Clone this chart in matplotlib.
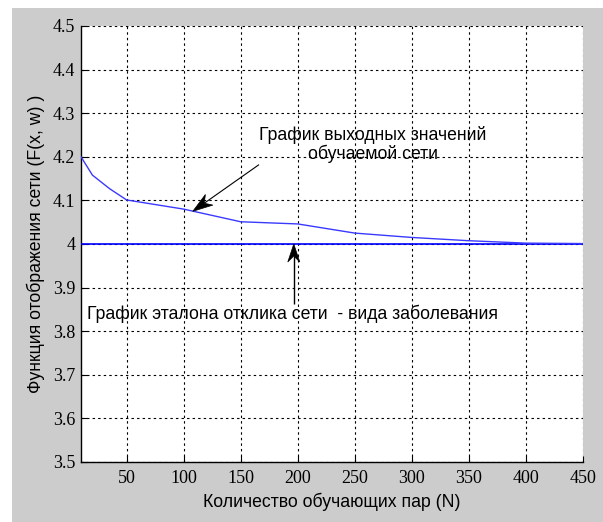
import matplotlib
matplotlib.use("Agg")
import numpy as np
import matplotlib.pyplot as plt
from matplotlib.patches import Rectangle, Polygon
from matplotlib.transforms import IdentityTransform

# ---- data ----
n_pairs = [10, 20, 35, 50, 100, 150, 200, 250, 300, 350, 400, 450]
net_output = [4.20, 4.158, 4.127, 4.101, 4.080, 4.051, 4.046, 4.025, 4.015, 4.0075, 4.002, 4.001]
reference_x = [10, 450]
reference_y = [4.0, 4.0]

x_ticks = [50, 100, 150, 200, 250, 300, 350, 400, 450]
y_ticks = [3.5, 3.6, 3.7, 3.8, 3.9, 4.0, 4.1, 4.2, 4.3, 4.4, 4.5]
y_tick_labels = ['3.5', '3.6', '3.7', '3.8', '3.9', '4', '4.1', '4.2', '4.3', '4.4', '4.5']

x_label = 'Количество обучающих пар (N)'
y_label = 'Функция отображения сети (F(x, w) )'
note_output = 'График выходных значений\nобучаемой сети'
note_reference = 'График эталона отклика сети  - вида заболевания'

# ---- figure ----
W, H = 603, 522
fig = plt.figure(figsize=(W / 100, H / 100), dpi=100, facecolor='white')
fig.patches.append(Rectangle((12 / W, 0), 1 - 12 / W, (H - 8) / H,
                             transform=fig.transFigure, facecolor='#cccccc',
                             edgecolor='none', zorder=-10))

ax = fig.add_axes([81 / W, 1 - 462 / H, (583 - 81) / W, (462 - 26) / H])
ax.set_facecolor('white')

ax.plot(reference_x, reference_y, color='#0000ff', lw=1.2, zorder=3)
ax.plot(n_pairs, net_output, color='#3a3aff', lw=1.0, zorder=4)

ax.set_xlim(10, 450)
ax.set_ylim(3.5, 4.5)
ax.set_xticks(x_ticks)
ax.set_yticks(y_ticks)
ax.set_yticklabels(y_tick_labels)

for lab in ax.get_xticklabels() + ax.get_yticklabels():
    lab.set_fontfamily('Liberation Serif')
    lab.set_fontsize(13)

ax.tick_params(axis='both', direction='in', length=4, width=0.8, colors='black')
ax.tick_params(axis='x', pad=6)
ax.tick_params(axis='y', pad=4)

ax.grid(True, color='black', linestyle=(0, (2.2, 2.8)), linewidth=0.8)
ax.set_axisbelow(True)
for side in ['top', 'right']:
    ax.spines[side].set_visible(False)
for side in ['left', 'bottom']:
    ax.spines[side].set_linewidth(1.0)
    ax.spines[side].set_color('black')

ax.set_xlabel(x_label, fontfamily='Liberation Sans', fontsize=12.7, labelpad=4)
ax.set_ylabel(y_label, fontfamily='Liberation Sans', fontsize=12.7, labelpad=6)


def notched_arrow(tip, tail, head_len, head_w, notch, lw):
    """MATLAB-style arrow with a notched (vback) head; tip/tail in data coords."""
    p_tip = ax.transData.transform(tip)
    p_tail = ax.transData.transform(tail)
    d = p_tip - p_tail
    d = d / np.hypot(*d)
    n = np.array([-d[1], d[0]])
    back = p_tip - head_len * d
    inner = p_tip - (head_len - notch) * d
    ax.plot([p_tail[0], inner[0]], [p_tail[1], inner[1]], color='black', lw=lw,
            transform=IdentityTransform(), zorder=6, solid_capstyle='butt')
    head = Polygon([p_tip, back + n * head_w / 2, inner, back - n * head_w / 2],
                   closed=True, facecolor='black', edgecolor='black', lw=0.5,
                   transform=IdentityTransform(), zorder=6)
    ax.add_patch(head)


# annotations
notched_arrow((108, 4.075), (166, 4.182), head_len=20, head_w=13, notch=6, lw=0.8)
ax.text(266, 4.228, note_output, ha='center', va='center', fontsize=12.7,
        fontfamily='Liberation Sans', linespacing=1.0, zorder=6)

notched_arrow((196.5, 4.0), (196.5, 3.863), head_len=18, head_w=12, notch=6, lw=1.0)
ax.text(15.5, 3.84, note_reference, ha='left', va='center', fontsize=12.7,
        fontfamily='Liberation Sans', zorder=6)

fig.savefig('out.png', dpi=100, facecolor=fig.get_facecolor())
